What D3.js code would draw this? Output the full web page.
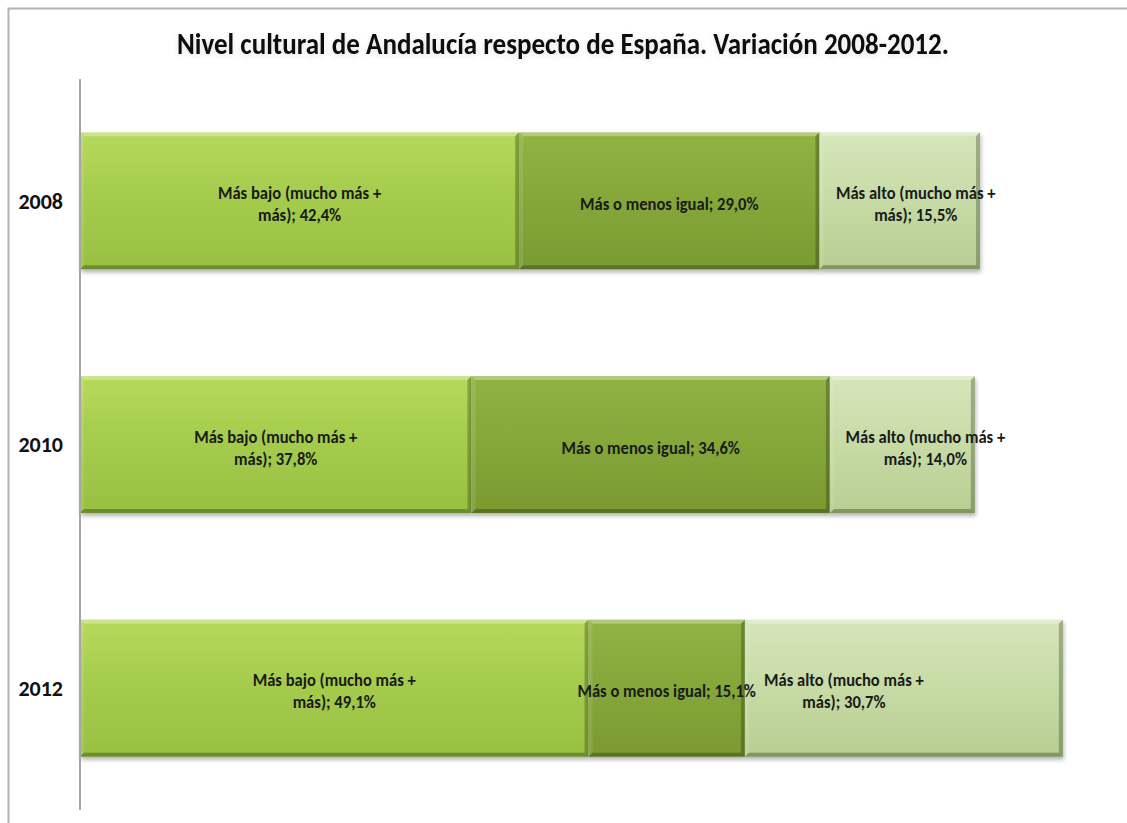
<!DOCTYPE html>
<html>
<head>
<meta charset="utf-8">
<script src="https://cdn.jsdelivr.net/npm/d3@7"></script>
<style>
  html, body { margin: 0; padding: 0; background: #fff; }
  svg { display: block; }
</style>
</head>
<body>
<svg id="chart" width="1127" height="823"></svg>
<script>
// Survey years and the three answer groups (percent of respondents)
const years = ["2008", "2010", "2012"];
const seriesNames = [
  "Más bajo (mucho más + más)",
  "Más o menos igual",
  "Más alto (mucho más + más)"
];
const masBajo  = [42.4, 37.8, 49.1];
const igual    = [29.0, 34.6, 15.1];
const masAlto  = [15.5, 14.0, 30.7];
const chartTitle = "Nivel cultural de Andalucía respecto de España. Variación 2008-2012.";

const W = 1127, H = 823;
const svg = d3.select("#chart");
const font = "Carlito, Calibri, 'Open Sans', 'Noto Sans', sans-serif";

const defs = svg.append("defs");

// Vertical gradients for each series
const palettes = [
  ["#b6d95c", "#a5cc4d", "#98c041"],
  ["#91b344", "#86a83a", "#7a9a31"],
  ["#d6e6bb", "#c8dca7", "#b8ce92"]
];
palettes.forEach((p, i) => {
  const g = defs.append("linearGradient")
    .attr("id", "grad" + i).attr("x1", 0).attr("y1", 0).attr("x2", 0).attr("y2", 1);
  g.append("stop").attr("offset", "0%").attr("stop-color", p[0]);
  g.append("stop").attr("offset", "45%").attr("stop-color", p[1]);
  g.append("stop").attr("offset", "100%").attr("stop-color", p[2]);
});

// Soft shadow under the bars
const sh = defs.append("filter").attr("id", "barShadow")
  .attr("x", "-5%").attr("y", "-10%").attr("width", "110%").attr("height", "130%");
sh.append("feGaussianBlur").attr("in", "SourceAlpha").attr("stdDeviation", 2).attr("result", "b");
sh.append("feOffset").attr("in", "b").attr("dx", 1).attr("dy", 3).attr("result", "o");
sh.append("feComponentTransfer").attr("in", "o").attr("result", "s")
  .append("feFuncA").attr("type", "linear").attr("slope", 0.3);
const shm = sh.append("feMerge");
shm.append("feMergeNode").attr("in", "s");
shm.append("feMergeNode").attr("in", "SourceGraphic");

// Faint glow behind the title
const tf = defs.append("filter").attr("id", "titleShadow")
  .attr("x", "-5%").attr("y", "-40%").attr("width", "110%").attr("height", "180%");
tf.append("feGaussianBlur").attr("in", "SourceAlpha").attr("stdDeviation", 3).attr("result", "b");
tf.append("feOffset").attr("in", "b").attr("dx", 0).attr("dy", 2).attr("result", "o");
tf.append("feComponentTransfer").attr("in", "o").attr("result", "s")
  .append("feFuncA").attr("type", "linear").attr("slope", 0.12);
const tfm = tf.append("feMerge");
tfm.append("feMergeNode").attr("in", "s");
tfm.append("feMergeNode").attr("in", "SourceGraphic");

svg.append("rect").attr("width", W).attr("height", H).attr("fill", "#fff");

// Outer frame of the chart area (runs past the right and bottom edges)
svg.append("rect")
  .attr("x", 8.5).attr("y", 8.5).attr("width", W + 20).attr("height", H + 20)
  .attr("fill", "none").attr("stroke", "#b3b3b3").attr("stroke-width", 2);

// Title
svg.append("text")
  .attr("x", 563).attr("y", 54)
  .attr("text-anchor", "middle")
  .attr("font-family", font).attr("font-weight", "bold").attr("font-size", 30)
  .attr("fill", "#111")
  .attr("filter", "url(#titleShadow)")
  .attr("textLength", 772).attr("lengthAdjust", "spacingAndGlyphs")
  .text(chartTitle);

// Scales
const plotLeft = 80, plotTop = 79, plotBottom = 810;
const x = d3.scaleLinear().domain([0, 100]).range([plotLeft, 1115.7]);
const y = d3.scaleBand().domain(years).range([plotTop, plotBottom])
  .paddingInner(0.438).paddingOuter(0.219);

// Stack the three series
const rows = years.map((yr, i) => ({ year: yr, s0: masBajo[i], s1: igual[i], s2: masAlto[i] }));
const stacked = d3.stack().keys(["s0", "s1", "s2"])(rows);

const bevel = 4;
const barsG = svg.append("g");

stacked.forEach((layer, si) => {
  const g = barsG.append("g").attr("filter", "url(#barShadow)");
  layer.forEach(d => {
    const x0 = x(d[0]), x1 = x(d[1]);
    const y0 = y(d.data.year), y1 = y0 + y.bandwidth();
    const seg = g.append("g");
    seg.append("rect")
      .attr("x", x0).attr("y", y0).attr("width", x1 - x0).attr("height", y1 - y0)
      .attr("fill", `url(#grad${si})`);
    const b = bevel;
    const poly = (pts, fill, op) => seg.append("polygon")
      .attr("points", pts.map(p => p.join(",")).join(" "))
      .attr("fill", fill).attr("fill-opacity", op);
    // top highlight
    poly([[x0, y0], [x1, y0], [x1 - b, y0 + b], [x0 + b, y0 + b]], "#fff", 0.3);
    // left highlight
    poly([[x0, y0], [x0 + b, y0 + b], [x0 + b, y1 - b], [x0, y1]], "#fff", 0.1);
    // right shade
    poly([[x1, y0], [x1, y1], [x1 - b, y1 - b], [x1 - b, y0 + b]], "#1e2a0a", 0.3);
    // bottom shade
    poly([[x0, y1], [x1, y1], [x1 - b, y1 - b], [x0 + b, y1 - b]], "#1e2a0a", 0.35);
  });
});

// Category axis line
svg.append("line")
  .attr("x1", plotLeft).attr("x2", plotLeft)
  .attr("y1", plotTop).attr("y2", plotBottom)
  .attr("stroke", "#a6a6a6").attr("stroke-width", 2);

// Year labels
svg.append("g").selectAll("text").data(years).join("text")
  .attr("x", 63)
  .attr("y", d => y(d) + y.bandwidth() / 2)
  .attr("dy", "0.35em")
  .attr("text-anchor", "end")
  .attr("font-family", font).attr("font-weight", "bold").attr("font-size", 22)
  .attr("fill", "#111")
  .text(d => d);

// Data labels: "<series>; <value>%", wrapped like the spreadsheet labels
const fmt = v => v.toFixed(1).replace(".", ",") + "%";
const labelLines = (si, v) => {
  if (si === 1) return [`${seriesNames[1]}; ${fmt(v)}`];
  const name = seriesNames[si];
  const cut = name.indexOf("más)");
  return [name.slice(0, cut).trim(), `${name.slice(cut)}; ${fmt(v)}`];
};
// Horizontal nudges applied to the third group's labels
const thirdNudge = [16, 23, -60];

const labelsG = svg.append("g");
stacked.forEach((layer, si) => {
  layer.forEach((d, i) => {
    const v = d[1] - d[0];
    const lines = labelLines(si, v);
    const cx = (x(d[0]) + x(d[1])) / 2 + (si === 2 ? thirdNudge[i] : 0);
    const cy = y(d.data.year) + y.bandwidth() / 2 + 3;
    const lh = 22;
    const t = labelsG.append("text")
      .attr("text-anchor", "middle")
      .attr("font-family", font).attr("font-weight", "bold").attr("font-size", 18)
      .attr("fill", "#1a1a1a");
    lines.forEach((ln, k) => {
      t.append("tspan")
        .attr("x", cx)
        .attr("y", cy + (k - (lines.length - 1) / 2) * lh)
        .attr("dy", "0.35em")
        .text(ln);
    });
  });
});

// Narrow the label glyphs towards a condensed look
const squeeze = 0.92;
labelsG.selectAll("tspan").each(function () {
  const w = this.getComputedTextLength();
  d3.select(this).attr("textLength", w * squeeze).attr("lengthAdjust", "spacingAndGlyphs");
});
</script>
</body>
</html>
